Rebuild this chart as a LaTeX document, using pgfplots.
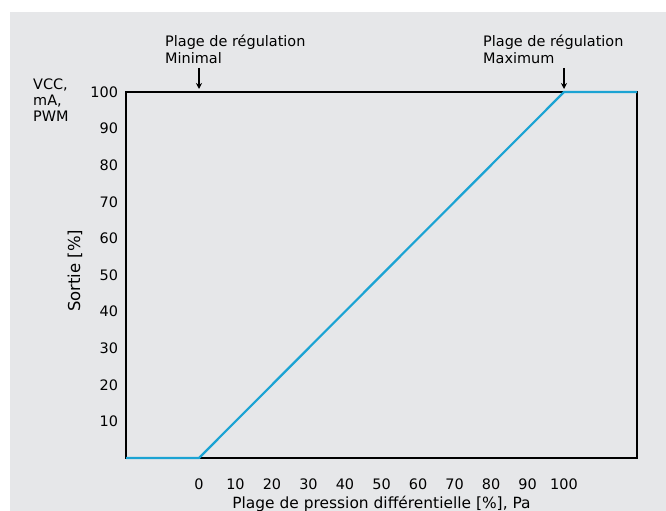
\documentclass[border=0pt]{standalone}
\usepackage{pgfplots}
\pgfplotsset{compat=1.18}
\usetikzlibrary{arrows.meta}
\usepackage{fontspec}
\setmainfont{DejaVu Sans}
\definecolor{bg}{HTML}{E6E7E9}
\definecolor{ln}{HTML}{1BA3D3}
\begin{document}
\fontsize{14.5}{18}\selectfont
\begin{tikzpicture}
\useasboundingbox (0,0) rectangle (666bp,511bp);
\fill[bg] (10bp,0) rectangle (666bp,499bp);
\begin{axis}[
    at={(126bp,53bp)}, anchor=south west,
    scale only axis,
    width=511bp, height=366bp,
    xmin=-20, xmax=120, ymin=0, ymax=100,
    xtick={0,10,...,100}, ytick={10,20,...,100},
    major tick length=0pt,
    axis line style={line width=2.4pt},
    /pgf/number format/assume math mode=true,
    ticklabel style={font=\fontsize{14.5}{17}\selectfont},
    xticklabel style={yshift=-16bp},
    yticklabel style={xshift=-3bp},
    xlabel={Plage de pression différentielle [\%], Pa},
    ylabel={Sortie [\%]},
    xlabel style={font=\fontsize{15.5}{18}\selectfont, at={(axis description cs:0.5,0)}, anchor=base, yshift=-50bp},
    ylabel style={font=\fontsize{16.5}{19}\selectfont, at={(axis description cs:-0.1,0.511)}, anchor=center},
    clip=false,
]
\addplot[ln, line width=2.2pt] coordinates {(-20,0) (0,0) (100,100) (120,100)};
\draw[-{Stealth[length=6pt,width=6pt]}, line width=1.2pt] ([yshift=24bp]axis cs:0,100) -- ([yshift=3bp]axis cs:0,100);
\draw[-{Stealth[length=6pt,width=6pt]}, line width=1.2pt] ([yshift=24bp]axis cs:100,100) -- ([yshift=3bp]axis cs:100,100);
\node[anchor=base west, inner sep=0pt] at ([xshift=-34bp,yshift=45.5bp]axis cs:0,100) {Plage de régulation};
\node[anchor=base west, inner sep=0pt] at ([xshift=-34bp,yshift=28bp]axis cs:0,100) {Minimal};
\node[anchor=base west, inner sep=0pt] at ([xshift=-81bp,yshift=45.5bp]axis cs:100,100) {Plage de régulation};
\node[anchor=base west, inner sep=0pt] at ([xshift=-81bp,yshift=28bp]axis cs:100,100) {Maximum};
\end{axis}
\node[anchor=base west, inner sep=0pt] at (33bp,421bp) {VCC,};
\node[anchor=base west, inner sep=0pt] at (33bp,405bp) {mA,};
\node[anchor=base west, inner sep=0pt] at (33bp,389bp) {PWM};
\end{tikzpicture}
\end{document}
